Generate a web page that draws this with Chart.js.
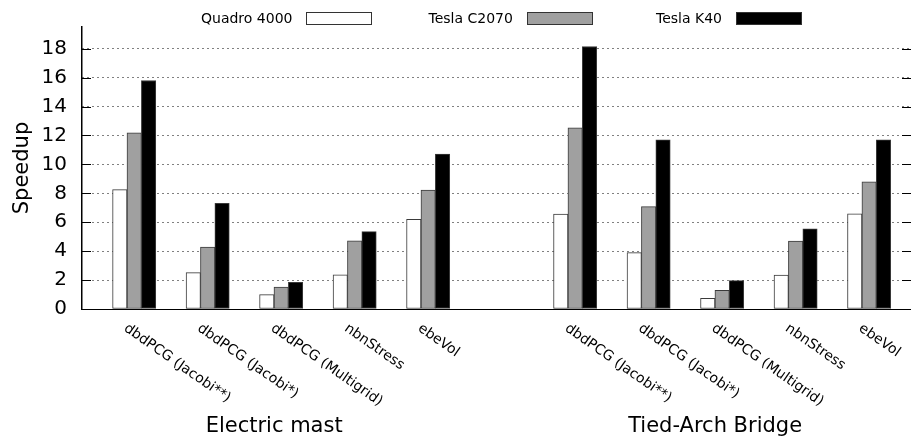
<!DOCTYPE html>
<html>
<head>
<meta charset="utf-8">
<script src="https://cdn.jsdelivr.net/npm/chart.js@4/dist/chart.umd.min.js"></script>
<style>
  html, body { margin: 0; padding: 0; background: #fff; }
  canvas { display: block; }
</style>
</head>
<body>
<canvas id="speedupChart" width="911" height="437"></canvas>
<script>
// benchmark names, '' marks the gap between the two structures
const categories = [
  'dbdPCG (Jacobi**)', 'dbdPCG (Jacobi*)', 'dbdPCG (Multigrid)', 'nbnStress', 'ebeVol',
  '',
  'dbdPCG (Jacobi**)', 'dbdPCG (Jacobi*)', 'dbdPCG (Multigrid)', 'nbnStress', 'ebeVol'
];
const groupNames = ['Electric mast', 'Tied-Arch Bridge'];
const seriesNames = ['Quadro 4000', 'Tesla C2070', 'Tesla K40'];

const quadro4000 = [8.25, 2.52, 0.99, 2.37, 6.2, null, 6.56, 3.9, 0.74, 2.35, 6.58];
const teslaC2070 = [12.18, 4.28, 1.51, 4.72, 8.23, null, 12.52, 7.08, 1.29, 4.69, 8.8];
const teslaK40 = [15.8, 7.31, 1.85, 5.35, 10.71, null, 18.15, 11.7, 1.96, 5.55, 11.7];

const yTicks = [0, 2, 4, 6, 8, 10, 12, 14, 16, 18];

const FONT = '"DejaVu Sans", sans-serif';

function toPoints(values) {
  return values.map((v, i) => ({ x: i, y: v })).filter(p => p.y !== null);
}

// group index ranges split by the empty category
function groupRanges() {
  const out = [];
  let start = 0;
  categories.forEach((c, i) => {
    if (c === '') { out.push([start, i - 1]); start = i + 1; }
  });
  out.push([start, categories.length - 1]);
  return out;
}

const labelsPlugin = {
  id: 'labelsPlugin',
  afterDraw(chart) {
    const ctx = chart.ctx;
    const xs = chart.scales.x;
    const ys = chart.scales.y;
    const area = chart.chartArea;

    // inward tick marks on both sides
    ctx.save();
    ctx.strokeStyle = '#000';
    ctx.lineWidth = 1;
    yTicks.forEach(v => {
      const py = Math.round(ys.getPixelForValue(v)) + 0.5;
      ctx.beginPath();
      ctx.moveTo(area.left, py); ctx.lineTo(area.left + 9, py);
      ctx.moveTo(area.right - 9, py); ctx.lineTo(area.right, py);
      ctx.stroke();
    });
    ctx.restore();

    // rotated benchmark labels
    ctx.save();
    ctx.fillStyle = '#000';
    ctx.font = '14px ' + FONT;
    ctx.textAlign = 'left';
    ctx.textBaseline = 'alphabetic';
    categories.forEach((c, i) => {
      if (!c) return;
      const px = xs.getPixelForValue(i);
      ctx.save();
      ctx.translate(px - 11, area.bottom + 21);
      ctx.rotate(35 * Math.PI / 180);
      ctx.fillText(c, 0, 0);
      ctx.restore();
    });

    // structure names
    ctx.font = '21px ' + FONT;
    ctx.textAlign = 'center';
    groupRanges().forEach((r, g) => {
      const px = xs.getPixelForValue((r[0] + r[1]) / 2) - 7;
      ctx.fillText(groupNames[g], px, 432);
    });
    ctx.restore();

    // legend: text then sample box
    ctx.save();
    ctx.font = '14px ' + FONT;
    ctx.textAlign = 'left';
    ctx.textBaseline = 'alphabetic';
    chart.data.datasets.forEach((ds, i) => {
      const tx = 201 + i * 227.5;
      ctx.fillStyle = '#000';
      ctx.fillText(ds.label, tx, 23);
      const bx = Math.round(tx + ctx.measureText(ds.label).width + 14) + 0.5;
      ctx.fillStyle = ds.backgroundColor;
      ctx.fillRect(bx, 12.5, 65, 12);
      ctx.strokeStyle = '#333';
      ctx.lineWidth = 1;
      ctx.strokeRect(bx, 12.5, 65, 12);
    });
    ctx.restore();
  }
};

const barStyle = { barThickness: 14.4, borderWidth: 1, borderColor: '#3a3a3a', borderSkipped: false };

new Chart(document.getElementById('speedupChart'), {
  type: 'bar',
  data: {
    datasets: [
      { label: seriesNames[0], data: toPoints(quadro4000), backgroundColor: '#ffffff', ...barStyle },
      { label: seriesNames[1], data: toPoints(teslaC2070), backgroundColor: '#a0a0a0', ...barStyle },
      { label: seriesNames[2], data: toPoints(teslaK40), backgroundColor: '#000000', ...barStyle },
    ],
  },
  options: {
    responsive: false,
    animation: false,
    devicePixelRatio: 1,
    layout: { padding: { top: 21, right: 0, bottom: 0, left: 0 } },
    plugins: { legend: { display: false }, tooltip: { enabled: false } },
    scales: {
      x: {
        type: 'linear',
        min: -0.71,
        max: 10.57,
        offset: false,
        ticks: { display: false },
        grid: { display: false },
        border: { display: true, color: '#000', width: 1 },
        afterFit: s => { s.height = 128; },
      },
      y: {
        min: 0,
        max: 19.5,
        afterBuildTicks: s => { s.ticks = yTicks.map(v => ({ value: v })); },
        ticks: { color: '#000', font: { family: FONT, size: 20 }, padding: 15 },
        grid: { color: '#000', lineWidth: 1, drawTicks: false },
        border: { display: true, color: '#000', width: 1.5, dash: [1, 4] },
        title: { display: true, text: 'Speedup', color: '#000', font: { family: FONT, size: 21 }, padding: { top: 10, bottom: 0 } },
        afterFit: s => { s.width = 82; },
      },
    },
  },
  plugins: [labelsPlugin],
});
</script>
</body>
</html>
